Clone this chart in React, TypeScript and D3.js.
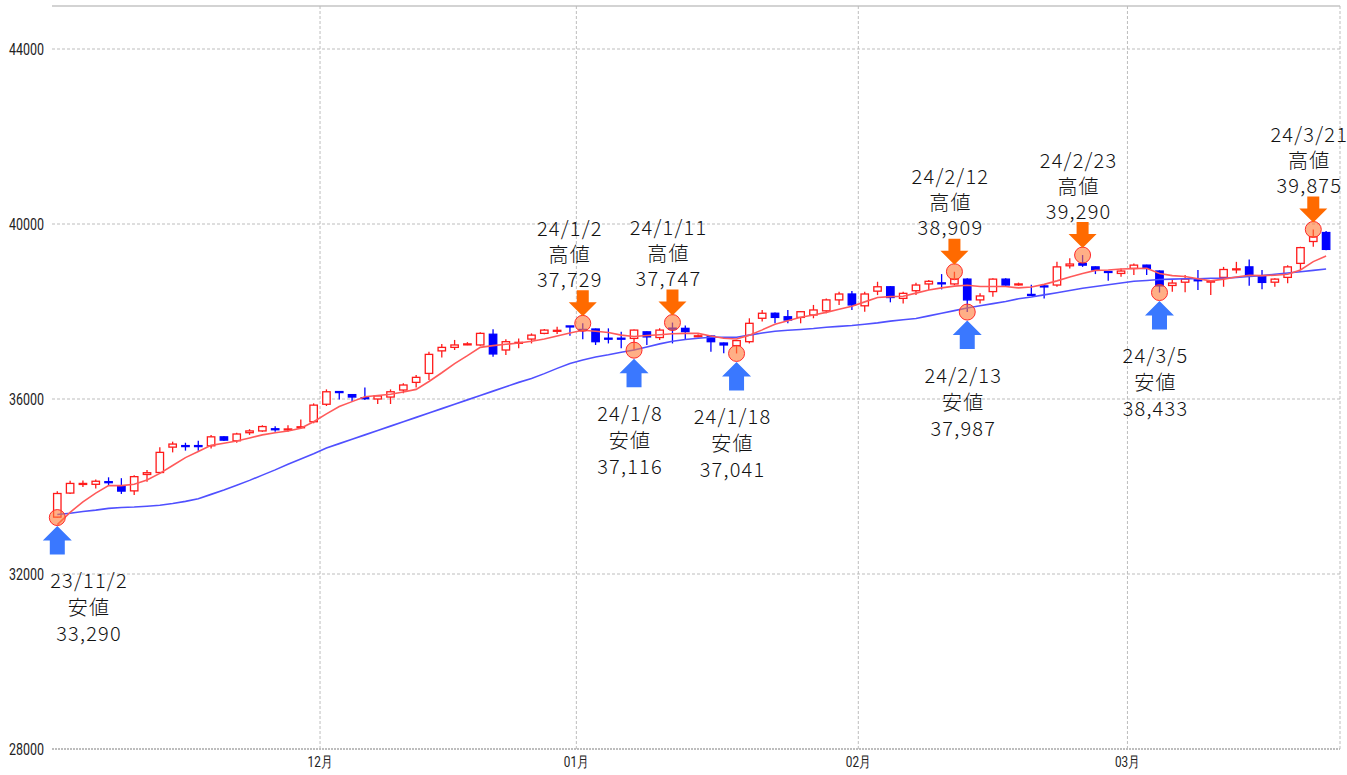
import React, { useEffect, useRef } from 'react';
import * as d3 from 'd3';

// trading days shown on the chart
const dates = [
  '2023-11-02', '2023-11-03', '2023-11-06', '2023-11-07', '2023-11-08', '2023-11-09', '2023-11-10',
  '2023-11-13', '2023-11-14', '2023-11-15', '2023-11-16', '2023-11-17', '2023-11-20', '2023-11-21',
  '2023-11-22', '2023-11-23', '2023-11-24', '2023-11-27', '2023-11-28', '2023-11-29', '2023-11-30',
  '2023-12-01', '2023-12-04', '2023-12-05', '2023-12-06', '2023-12-07', '2023-12-08', '2023-12-11',
  '2023-12-12', '2023-12-13', '2023-12-14', '2023-12-15', '2023-12-18', '2023-12-19', '2023-12-20',
  '2023-12-21', '2023-12-22', '2023-12-26', '2023-12-27', '2023-12-28', '2023-12-29',
  '2024-01-02', '2024-01-03', '2024-01-04', '2024-01-05', '2024-01-08', '2024-01-09', '2024-01-10',
  '2024-01-11', '2024-01-12', '2024-01-15', '2024-01-16', '2024-01-17', '2024-01-18', '2024-01-19',
  '2024-01-22', '2024-01-23', '2024-01-24', '2024-01-25', '2024-01-26', '2024-01-29', '2024-01-30',
  '2024-01-31',
  '2024-02-01', '2024-02-02', '2024-02-05', '2024-02-06', '2024-02-07', '2024-02-08', '2024-02-09',
  '2024-02-12', '2024-02-13', '2024-02-14', '2024-02-15', '2024-02-16', '2024-02-19', '2024-02-20',
  '2024-02-21', '2024-02-22', '2024-02-23', '2024-02-26', '2024-02-27', '2024-02-28', '2024-02-29',
  '2024-03-01', '2024-03-04', '2024-03-05', '2024-03-06', '2024-03-07', '2024-03-08', '2024-03-11',
  '2024-03-12', '2024-03-13', '2024-03-14', '2024-03-15', '2024-03-18', '2024-03-19', '2024-03-20',
  '2024-03-21', '2024-03-22',
];

const opens = [
  33300, 33850, 34050, 34050, 34110, 34015, 33900, 34275, 34320, 34900,
  34935, 34935, 34930, 35135, 35045, 35230, 35270, 35320, 35305, 35350,
  35480, 35880, 36170, 36100, 36030, 36000, 36045, 36205, 36380, 36585,
  37100, 37180, 37250, 37235, 37480, 37120, 37285, 37370, 37500, 37560,
  37670, 37590, 37600, 37390, 37390, 37385, 37535, 37405, 37620, 37615,
  37435, 37440, 37280, 37220, 37310, 37845, 37960, 37880, 37865, 37920,
  38015, 38265, 38400, 38130, 38465, 38565, 38300, 38475, 38630, 38655,
  38630, 38740, 38265, 38455, 38740, 38620, 38390, 38585, 38605, 39045,
  39100, 39020, 38915, 38870, 38985, 39060, 38925, 38595, 38670, 38725,
  38685, 38780, 38965, 39020, 38800, 38670, 38780, 39100, 39600, 39805,
];
const highs = [
  33890, 34130, 34140, 34160, 34210, 34190, 34260, 34375, 34895, 35025,
  35000, 35045, 35175, 35150, 35230, 35310, 35400, 35380, 35400, 35530,
  35900, 36220, 36170, 36110, 36265, 36090, 36220, 36360, 36550, 37080,
  37255, 37350, 37300, 37525, 37595, 37365, 37385, 37500, 37600, 37650,
  37670, 37729, 37610, 37615, 37535, 37590, 37545, 37615, 37747, 37680,
  37480, 37450, 37290, 37350, 37845, 38035, 37975, 38035, 38010, 38150,
  38300, 38450, 38470, 38450, 38680, 38580, 38450, 38660, 38720, 38855,
  38909, 38760, 38415, 38760, 38760, 38660, 38610, 38610, 39135, 39215,
  39290, 39030, 38915, 38985, 39100, 39070, 38940, 38720, 38835, 38950,
  38720, 39020, 39135, 39190, 38950, 38760, 39060, 39480, 39875, 39840,
];
const lows = [
  33290, 33830, 33990, 33955, 34010, 33830, 33805, 34110, 34300, 34780,
  34820, 34820, 34870, 35040, 35000, 35180, 35250, 35250, 35250, 35330,
  35445, 35840, 35990, 35940, 35975, 35885, 35885, 36130, 36265, 36435,
  36950, 37120, 37230, 37220, 36965, 37005, 37160, 37270, 37480, 37485,
  37445, 37365, 37235, 37270, 37160, 37116, 37235, 37350, 37270, 37350,
  37410, 37080, 37045, 37041, 37270, 37770, 37730, 37730, 37730, 37845,
  37960, 38150, 38035, 37995, 38375, 38210, 38185, 38375, 38490, 38505,
  38600, 37987, 38185, 38340, 38590, 38590, 38370, 38300, 38565, 38985,
  39020, 38855, 38705, 38795, 38835, 38835, 38433, 38450, 38440, 38490,
  38375, 38565, 38870, 38590, 38510, 38565, 38645, 38950, 39480, 39400,
];
const closes = [
  33840, 34070, 34070, 34120, 34100, 33895, 34225, 34315, 34780, 34970,
  34925, 34925, 35135, 35060, 35200, 35270, 35370, 35310, 35315, 35365,
  35860, 36165, 36160, 36045, 36020, 36070, 36165, 36320, 36495, 37020,
  37180, 37235, 37260, 37500, 37030, 37310, 37295, 37460, 37575, 37570,
  37660, 37575, 37310, 37380, 37380, 37575, 37420, 37575, 37600, 37540,
  37445, 37310, 37235, 37335, 37730, 37960, 37865, 37805, 37995, 38035,
  38265, 38400, 38150, 38400, 38565, 38320, 38415, 38605, 38690, 38645,
  38745, 38265, 38355, 38740, 38605, 38630, 38380, 38575, 39020, 39085,
  39060, 38950, 38905, 38925, 39060, 38985, 38585, 38650, 38740, 38715,
  38695, 38960, 38975, 38830, 38665, 38740, 39020, 39460, 39710, 39420,
];

// short (red) and long (blue) moving averages as drawn
const maShort = [
  33130, 33410, 33650, 33850, 34020, 34020, 34050, 34150, 34300, 34480,
  34660, 34800, 34940, 34990, 35040, 35110, 35180, 35230, 35270, 35330,
  35480, 35660, 35830, 35940, 36050, 36080, 36110, 36160, 36220, 36400,
  36600, 36810, 36990, 37180, 37220, 37250, 37280, 37320, 37370, 37440,
  37510, 37570, 37550, 37520, 37460, 37430, 37450, 37470, 37490, 37500,
  37500, 37440, 37390, 37370, 37460, 37580, 37710, 37790, 37870, 37920,
  37980, 38050, 38120, 38220, 38320, 38340, 38350, 38420, 38490, 38540,
  38580, 38600, 38570, 38570, 38570, 38540, 38560, 38620, 38700, 38790,
  38870, 38940, 38950, 38970, 38980, 38990, 38870, 38820, 38800, 38750,
  38700, 38740, 38790, 38830, 38820, 38830, 38850, 38950, 39140, 39270,
];
const maLong = [
  33360, 33390, 33430, 33460, 33500, 33520, 33530, 33550, 33570, 33610,
  33660, 33720, 33820, 33920, 34030, 34140, 34260, 34380, 34510, 34630,
  34750, 34880, 34980, 35080, 35180, 35280, 35380, 35480, 35580, 35680,
  35780, 35880, 35980, 36080, 36180, 36280, 36380, 36470, 36580, 36700,
  36810, 36890, 36960, 37010, 37070, 37120, 37190, 37260, 37320, 37360,
  37390, 37410, 37410, 37410, 37460, 37510, 37550, 37570, 37590, 37610,
  37640, 37660, 37680, 37710, 37740, 37780, 37810, 37840, 37900, 37960,
  38020, 38080, 38130, 38180, 38230, 38290, 38330, 38380, 38430, 38480,
  38530, 38570, 38610, 38650, 38690, 38710, 38730, 38740, 38750, 38750,
  38760, 38760, 38780, 38800, 38820, 38850, 38880, 38910, 38940, 38970,
];

const yTicks = [28000, 32000, 36000, 40000, 44000];
const monthNames = ['12月', '01月', '02月', '03月'];

// highs / lows pointed at by arrows
const marks = [
  { at: '2023-11-02', kind: 'low', label: '23/11/2', value: 33290 },
  { at: '2024-01-02', kind: 'high', label: '24/1/2', value: 37729 },
  { at: '2024-01-08', kind: 'low', label: '24/1/8', value: 37116 },
  { at: '2024-01-11', kind: 'high', label: '24/1/11', value: 37747 },
  { at: '2024-01-18', kind: 'low', label: '24/1/18', value: 37041 },
  { at: '2024-02-12', kind: 'high', label: '24/2/12', value: 38909 },
  { at: '2024-02-13', kind: 'low', label: '24/2/13', value: 37987 },
  { at: '2024-02-26', kind: 'high', label: '24/2/23', value: 39290 },
  { at: '2024-03-05', kind: 'low', label: '24/3/5', value: 38433 },
  { at: '2024-03-21', kind: 'high', label: '24/3/21', value: 39875 },
];

const UP = '#ff1a1a';
const DOWN = '#0000ff';
const JP_FONT = '"Noto Sans CJK JP", "Noto Sans", sans-serif';
const AXIS_FONT = 'Roboto, "DejaVu Sans", sans-serif';

const App = () => {
  const svgRef = useRef<SVGSVGElement>(null);

  useEffect(() => {
    const W = 1347;
    const H = 775;
    const plot = { left: 52, right: 1340, top: 6, bottom: 749 };

    const svg = d3.select(svgRef.current);
    svg.selectAll('*').remove();
    svg.attr('width', W).attr('height', H);

    const x = d3.scalePoint<string>().domain(dates).range([57.3, 1326.1]);
    const y = d3.scaleLinear().domain([28000, 44000]).range([plot.bottom, 49]);
    const bodyW = x.step() * 0.58;

    const grid = svg.append('g');

    // horizontal grid + price labels
    yTicks.forEach((t) => {
      grid
        .append('line')
        .attr('x1', plot.left)
        .attr('x2', plot.right)
        .attr('y1', y(t))
        .attr('y2', y(t))
        .attr('stroke', '#bdbdbd')
        .attr('stroke-width', t === 28000 ? 2 : 1)
        .attr('stroke-dasharray', t === 28000 ? '2 1' : '3 2');
      grid
        .append('text')
        .attr('x', 44)
        .attr('y', y(t))
        .attr('dominant-baseline', 'central')
        .attr('text-anchor', 'end')
        .attr('font-family', AXIS_FONT)
        .attr('font-size', 16)
        .attr('textLength', 35)
        .attr('lengthAdjust', 'spacingAndGlyphs')
        .attr('fill', '#222')
        .text(String(t));
    });

    // top border
    grid
      .append('line')
      .attr('x1', plot.left)
      .attr('x2', plot.right)
      .attr('y1', plot.top)
      .attr('y2', plot.top)
      .attr('stroke', '#c4c4c4')
      .attr('stroke-width', 1.5);

    // month boundaries, halfway between last and first day
    const firsts = dates.filter((d, i) => i > 0 && d.slice(0, 7) !== dates[i - 1].slice(0, 7));
    firsts.forEach((d, k) => {
      const i = dates.indexOf(d);
      const mx = ((x(dates[i - 1]) as number) + (x(d) as number)) / 2;
      grid
        .append('line')
        .attr('x1', mx)
        .attr('x2', mx)
        .attr('y1', plot.top)
        .attr('y2', plot.bottom)
        .attr('stroke', '#bdbdbd')
        .attr('stroke-dasharray', '3 2');
      grid
        .append('text')
        .attr('x', mx)
        .attr('y', 762)
        .attr('dominant-baseline', 'central')
        .attr('text-anchor', 'middle')
        .attr('font-family', AXIS_FONT)
        .attr('font-size', 15)
        .attr('textLength', 25)
        .attr('lengthAdjust', 'spacingAndGlyphs')
        .attr('fill', '#222')
        .text(monthNames[k]);
    });

    // right edge
    grid
      .append('line')
      .attr('x1', plot.right)
      .attr('x2', plot.right)
      .attr('y1', plot.top)
      .attr('y2', plot.bottom)
      .attr('stroke', '#bdbdbd')
      .attr('stroke-dasharray', '3 2');

    // candles
    const candles = svg
      .append('g')
      .selectAll('g')
      .data(dates.map((d, i) => ({ d, o: opens[i], h: highs[i], l: lows[i], c: closes[i] })))
      .join('g');

    candles
      .append('line')
      .attr('x1', (p) => x(p.d) as number)
      .attr('x2', (p) => x(p.d) as number)
      .attr('y1', (p) => y(p.h))
      .attr('y2', (p) => y(p.l))
      .attr('stroke', (p) => (p.c >= p.o ? UP : DOWN))
      .attr('stroke-width', 1.3);

    candles
      .append('rect')
      .attr('x', (p) => (x(p.d) as number) - bodyW / 2)
      .attr('width', bodyW)
      .attr('y', (p) => y(Math.max(p.o, p.c)))
      .attr('height', (p) => Math.max(1, Math.abs(y(p.o) - y(p.c))))
      .attr('fill', (p) => (p.c >= p.o ? '#fff' : DOWN))
      .attr('stroke', (p) => (p.c >= p.o ? UP : DOWN))
      .attr('stroke-width', 1.3);

    // moving averages
    const line = d3
      .line<number>()
      .x((_, i) => x(dates[i]) as number)
      .y((v) => y(v));

    svg
      .append('path')
      .datum(maLong)
      .attr('fill', 'none')
      .attr('stroke', '#5050ff')
      .attr('stroke-width', 1.6)
      .attr('d', line);

    svg
      .append('path')
      .datum(maShort)
      .attr('fill', 'none')
      .attr('stroke', '#ff5a5a')
      .attr('stroke-width', 1.6)
      .attr('d', line);

    // high / low markers
    const fmt = d3.format(',');
    const labelNudge: Record<string, number> = { '24/1/2': -9 };

    marks.forEach((m) => {
      const cx = x(m.at) as number;
      const cy = y(m.value);
      const g = svg.append('g');

      g.append('circle')
        .attr('cx', cx)
        .attr('cy', cy)
        .attr('r', 8)
        .attr('fill', '#ff7a36')
        .attr('fill-opacity', 0.6)
        .attr('stroke', '#ff2a2a')
        .attr('stroke-width', 1);

      let arrow: string;
      if (m.kind === 'high') {
        const tip = cy - 7;
        arrow = `M${cx},${tip} L${cx - 14},${tip - 14} L${cx - 6},${tip - 14} L${cx - 6},${tip - 26} L${cx + 6},${tip - 26} L${cx + 6},${tip - 14} L${cx + 14},${tip - 14} Z`;
      } else {
        const tip = cy + 8.5;
        arrow = `M${cx},${tip} L${cx - 14.5},${tip + 14.5} L${cx - 7.5},${tip + 14.5} L${cx - 7.5},${tip + 28.5} L${cx + 7.5},${tip + 28.5} L${cx + 7.5},${tip + 14.5} L${cx + 14.5},${tip + 14.5} Z`;
      }
      g.append('path')
        .attr('d', arrow)
        .attr('fill', m.kind === 'high' ? '#ff6a00' : '#3a78ff');

      const lines =
        m.kind === 'high'
          ? [
              [m.label, -96],
              ['高値', -70],
              [fmt(m.value), -45],
            ]
          : [
              [m.label, 62],
              ['安値', 89],
              [fmt(m.value), 115],
            ];
      const tx = Math.max(89, cx - 4 + (labelNudge[m.label] || 0));
      lines.forEach(([txt, dy]) => {
        g.append('text')
          .attr('x', tx)
          .attr('y', cy + (dy as number))
          .attr('dominant-baseline', 'central')
          .attr('text-anchor', 'middle')
          .attr('font-family', JP_FONT)
          .attr('font-size', 20)
          .attr('letter-spacing', 1.2)
          .attr('font-weight', 300)
          .attr('fill', '#111')
          .text(txt as string);
      });
    });
  }, []);

  return (
    <>
      <style>{'body{margin:0;background:#fff}'}</style>
      <svg ref={svgRef} style={{ display: 'block' }}></svg>
    </>
  );
};

export default App;
